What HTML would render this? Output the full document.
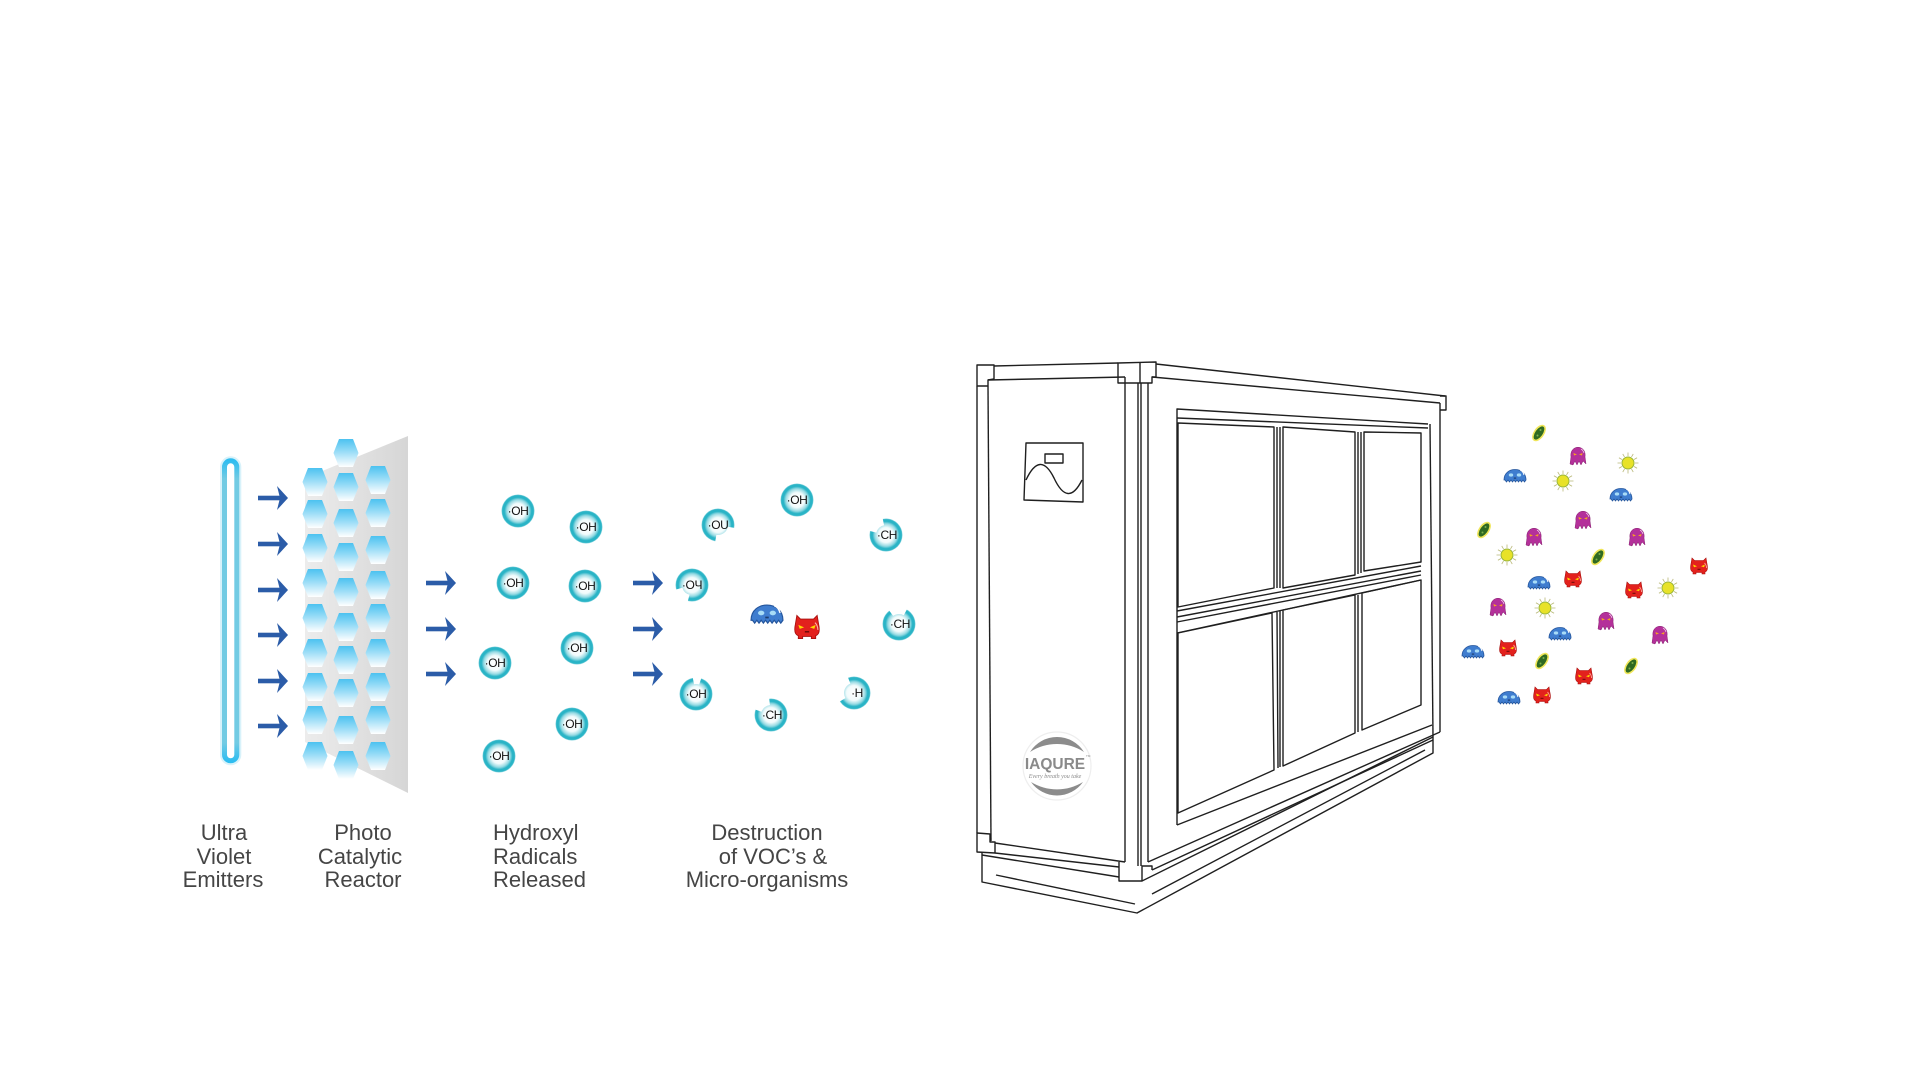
<!DOCTYPE html>
<html>
<head>
<meta charset="utf-8">
<style>
html,body{margin:0;padding:0;background:#fff;}
body{width:1920px;height:1080px;overflow:hidden;}
svg{display:block;}
.lbl{font-family:"Liberation Sans",sans-serif;font-size:22px;fill:#454545;}
.oh{font-family:"Liberation Sans",sans-serif;font-size:12px;fill:#111;text-anchor:middle;letter-spacing:-0.4px;}
.m{fill:none;stroke:#1f1f1f;stroke-width:1.4;stroke-linejoin:round;}
</style>
</head>
<body>
<svg width="1920" height="1080" viewBox="0 0 1920 1080" xmlns="http://www.w3.org/2000/svg">
<defs>
  <linearGradient id="hg" x1="0" y1="0" x2="0" y2="1">
    <stop offset="0" stop-color="#4cc2f0"/>
    <stop offset="0.4" stop-color="#8fd9f6"/>
    <stop offset="1" stop-color="#ffffff"/>
  </linearGradient>
  <linearGradient id="pg" x1="0" y1="0" x2="1" y2="0">
    <stop offset="0" stop-color="#ececec"/>
    <stop offset="0.35" stop-color="#e4e4e4"/>
    <stop offset="1" stop-color="#d6d6d6"/>
  </linearGradient>
  <linearGradient id="tg" x1="0" y1="0" x2="0" y2="1">
    <stop offset="0" stop-color="#2fbdf0"/>
    <stop offset="0.06" stop-color="#72cbe3"/>
    <stop offset="0.94" stop-color="#72cbe3"/>
    <stop offset="1" stop-color="#2fbdf0"/>
  </linearGradient>
  <radialGradient id="og" cx="0.5" cy="0.5" r="0.5">
    <stop offset="0" stop-color="#ffffff"/>
    <stop offset="0.45" stop-color="#f2fbfc"/>
    <stop offset="0.68" stop-color="#96dae3"/>
    <stop offset="0.82" stop-color="#2ab4c6"/>
    <stop offset="0.94" stop-color="#2ab4c6"/>
    <stop offset="1" stop-color="#9adbe4"/>
  </radialGradient>
  <polygon id="hx" points="-12.5,0 -7,-14 7,-14 12.5,0 7,14 -7,14" fill="url(#hg)"/>
  <g id="arr">
    <rect x="-30" y="-2.3" width="25" height="4.6" fill="#2b5ca8"/>
    <polygon points="-11,-12 0,0 -11,12 -8,0" fill="#2b5ca8"/>
  </g>
  <circle id="ohc" r="16.5" fill="url(#og)"/>
  <g id="jelly">
    <path d="M-11,5 C-11,-9 11,-9 11,5 L9.5,7 L8,5 L6.5,7 L5,5 L3.5,7 L2,5 L0.5,7 L-1,5 L-2.5,7 L-4,5 L-5.5,7 L-7,5 L-8.5,7 L-10,5 Z" fill="#3f7dcf" stroke="#24559c" stroke-width="0.8"/>
    <ellipse cx="-4" cy="0" rx="2.2" ry="1.6" fill="#a8dcf7"/>
    <ellipse cx="4" cy="0" rx="2.2" ry="1.6" fill="#a8dcf7"/>
    <rect x="-1.2" y="2.5" width="2.4" height="1.2" fill="#1d3d70"/>
    <path d="M5,-5 q3,1 4,5" stroke="#ffffff" fill="none" stroke-width="1"/>
  </g>
  <g id="devil">
    <path d="M-8,-2 L-7,-8 L-4.5,-5.5 L4.5,-5.5 L7,-8 L8,-2 Q9.5,5 6,6 L6,8 L3,8 L3,6.5 L-3,6.5 L-3,8 L-6,8 L-6,6 Q-9.5,5 -8,-2 Z" fill="#e3211d" stroke="#a8100e" stroke-width="0.6"/>
    <path d="M-6,-1.5 L-2,0.3 L-5,1.3 Z" fill="#ffd800"/>
    <path d="M6,-1.5 L2,0.3 L5,1.3 Z" fill="#ffd800"/>
    <rect x="-1.5" y="2.8" width="3" height="1" fill="#6b0a08"/>
    <path d="M5.5,-3 q2,2 2,5" stroke="#ffb0a8" fill="none" stroke-width="0.8"/>
  </g>
  <g id="squid">
    <path d="M-7,1 C-9,-12 9,-12 7,1 L8,8 L5,5 L3,9 L1,5 L-1,9 L-3,5 L-5,9 L-8,8 Z" fill="#b4309a" stroke="#86206f" stroke-width="0.5"/>
    <path d="M-4.5,-3 L-1,-1.5 L-4,-0.5 Z" fill="#f6a51f"/>
    <path d="M4.5,-3 L1,-1.5 L4,-0.5 Z" fill="#f6a51f"/>
    <path d="M3,-7 q2,1 3,4" stroke="#f3c6ea" fill="none" stroke-width="0.8"/>
  </g>
  <g id="sun">
    <path d="M7,0L10.5,0M6.06,3.5L9.09,5.25M3.5,6.06L5.25,9.09M0,7L0,10.5M-3.5,6.06L-5.25,9.09M-6.06,3.5L-9.09,5.25M-7,0L-10.5,0M-6.06,-3.5L-9.09,-5.25M-3.5,-6.06L-5.25,-9.09M0,-7L0,-10.5M3.5,-6.06L5.25,-9.09M6.06,-3.5L9.09,-5.25" stroke="#b9b878" stroke-width="0.8" fill="none"/>
    <circle r="6" fill="#e8e228" stroke="#98b43a" stroke-width="1"/>
  </g>
  <g id="rod">
    <ellipse rx="4.5" ry="8.5" transform="rotate(35)" fill="#2f6a22" stroke="#f0e65a" stroke-width="1.6"/>
    <circle cx="1.5" cy="-3" r="1" fill="#7fb04a"/>
    <circle cx="-1.5" cy="2.5" r="1" fill="#7fb04a"/>
  </g>
</defs>

<!-- UV tube -->
<rect x="224.5" y="460.8" width="12.3" height="300" rx="6.2" fill="none" stroke="#d8f2fa" stroke-width="9"/>
<rect x="224.5" y="460.8" width="12.3" height="300" rx="6.2" fill="#ffffff" stroke="url(#tg)" stroke-width="5"/>

<!-- arrows set 1 -->
<use href="#arr" transform="translate(288,498)"/>
<use href="#arr" transform="translate(288,544)"/>
<use href="#arr" transform="translate(288,590)"/>
<use href="#arr" transform="translate(288,635)"/>
<use href="#arr" transform="translate(288,681)"/>
<use href="#arr" transform="translate(288,726)"/>

<!-- reactor panel -->
<polygon points="305,478 408,436 408,793 305,742" fill="url(#pg)"/>
<use href="#hx" transform="translate(315,482)"/>
<use href="#hx" transform="translate(315,514)"/>
<use href="#hx" transform="translate(315,548)"/>
<use href="#hx" transform="translate(315,583)"/>
<use href="#hx" transform="translate(315,618)"/>
<use href="#hx" transform="translate(315,653)"/>
<use href="#hx" transform="translate(315,687)"/>
<use href="#hx" transform="translate(315,720)"/>
<use href="#hx" transform="translate(315,756)"/>
<use href="#hx" transform="translate(346,453)"/>
<use href="#hx" transform="translate(346,487)"/>
<use href="#hx" transform="translate(346,523)"/>
<use href="#hx" transform="translate(346,557)"/>
<use href="#hx" transform="translate(346,592)"/>
<use href="#hx" transform="translate(346,627)"/>
<use href="#hx" transform="translate(346,660)"/>
<use href="#hx" transform="translate(346,693)"/>
<use href="#hx" transform="translate(346,730)"/>
<use href="#hx" transform="translate(346,765)"/>
<use href="#hx" transform="translate(378,480)"/>
<use href="#hx" transform="translate(378,513)"/>
<use href="#hx" transform="translate(378,550)"/>
<use href="#hx" transform="translate(378,585)"/>
<use href="#hx" transform="translate(378,618)"/>
<use href="#hx" transform="translate(378,653)"/>
<use href="#hx" transform="translate(378,687)"/>
<use href="#hx" transform="translate(378,720)"/>
<use href="#hx" transform="translate(378,756)"/>

<!-- arrows set 2 -->
<use href="#arr" transform="translate(456,583)"/>
<use href="#arr" transform="translate(456,629)"/>
<use href="#arr" transform="translate(456,674)"/>

<!-- OH radicals released -->
<g>
  <use href="#ohc" x="518" y="511"/><text class="oh" x="518" y="515">·OH</text>
  <use href="#ohc" x="586" y="527"/><text class="oh" x="586" y="531">·OH</text>
  <use href="#ohc" x="513" y="583"/><text class="oh" x="513" y="587">·OH</text>
  <use href="#ohc" x="585" y="586"/><text class="oh" x="585" y="590">·OH</text>
  <use href="#ohc" x="495" y="663"/><text class="oh" x="495" y="667">·OH</text>
  <use href="#ohc" x="577" y="648"/><text class="oh" x="577" y="652">·OH</text>
  <use href="#ohc" x="572" y="724"/><text class="oh" x="572" y="728">·OH</text>
  <use href="#ohc" x="499" y="756"/><text class="oh" x="499" y="760">·OH</text>
</g>

<!-- arrows set 3 -->
<use href="#arr" transform="translate(663,583)"/>
<use href="#arr" transform="translate(663,629)"/>
<use href="#arr" transform="translate(663,674)"/>

<!-- destruction: broken OH -->
<g>
  <use href="#ohc" x="718" y="525"/>
  <circle cx="718" cy="525" r="14" fill="none" stroke="#fff" stroke-width="8" pathLength="360" stroke-dasharray="0 10 90 360"/>
  <text class="oh" x="718" y="529">·OU</text>

  <use href="#ohc" x="797" y="500"/><text class="oh" x="797" y="504">·OH</text>

  <use href="#ohc" x="886" y="535"/>
  <circle cx="886" cy="535" r="14" fill="none" stroke="#fff" stroke-width="8" pathLength="360" stroke-dasharray="0 195 65 360"/>
  <text class="oh" x="887" y="539">·CH</text>

  <use href="#ohc" x="692" y="585"/>
  <circle cx="692" cy="585" r="14" fill="none" stroke="#fff" stroke-width="8" pathLength="360" stroke-dasharray="0 105 60 360"/>
  <text class="oh" x="692" y="589">·OЧ</text>

  <use href="#ohc" x="899" y="624"/>
  <circle cx="899" cy="624" r="14" fill="none" stroke="#fff" stroke-width="8" pathLength="360" stroke-dasharray="0 235 65 360"/>
  <text class="oh" x="900" y="628">·CH</text>

  <use href="#ohc" x="696" y="694"/>
  <circle cx="696" cy="694" r="14" fill="none" stroke="#fff" stroke-width="8" pathLength="360" stroke-dasharray="0 260 30 360"/>
  <text class="oh" x="696" y="698">·OH</text>

  <use href="#ohc" x="771" y="715"/>
  <circle cx="771" cy="715" r="14" fill="none" stroke="#fff" stroke-width="8" pathLength="360" stroke-dasharray="0 200 65 360"/>
  <text class="oh" x="772" y="719">·CH</text>

  <use href="#ohc" x="854" y="693"/>
  <circle cx="854" cy="693" r="14" fill="none" stroke="#fff" stroke-width="8" pathLength="360" stroke-dasharray="0 150 100 360"/>
  <text class="oh" x="857" y="697">·H</text>
</g>
<use href="#jelly" transform="translate(767,613) scale(1.45)"/>
<use href="#devil" transform="translate(807,627) scale(1.45)"/>

<!-- labels -->
<text class="lbl" x="224" y="840" text-anchor="middle">Ultra</text>
<text class="lbl" x="224" y="864" text-anchor="middle">Violet</text>
<text class="lbl" x="223" y="887" text-anchor="middle">Emitters</text>
<text class="lbl" x="363" y="840" text-anchor="middle">Photo</text>
<text class="lbl" x="360" y="864" text-anchor="middle">Catalytic</text>
<text class="lbl" x="363" y="887" text-anchor="middle">Reactor</text>
<text class="lbl" x="493" y="840">Hydroxyl</text>
<text class="lbl" x="493" y="864">Radicals</text>
<text class="lbl" x="493" y="887">Released</text>
<text class="lbl" x="767" y="840" text-anchor="middle">Destruction</text>
<text class="lbl" x="773" y="864" text-anchor="middle">of VOC’s &amp;</text>
<text class="lbl" x="767" y="887" text-anchor="middle">Micro-organisms</text>

<!-- Machine -->
<g class="m">
  <path d="M977,365 L994,365 L994,379 L988,380 L988,386 L977,386 Z"/>
  <path d="M994,366 L1118,363"/>
  <path d="M988,380 L1125,377"/>
  <path d="M1118,363 L1156,362 L1156,377 L1152,377 L1152,383 L1118,383 Z"/>
  <path d="M1140,362 L1140,383"/>
  <path d="M977,386 L977,833"/>
  <path d="M988,386 L991,841"/>
  <path d="M1125,377 L1125,862"/>
  <path d="M1138,383 L1138,866"/>
  <path d="M1141,383 L1141,866"/>
  <path d="M1148,383 L1148,862"/>
  <path d="M977,833 L990,834 L990,842 L995,842 L995,853 L977,852 Z"/>
  <path d="M995,843 L1125,862"/>
  <path d="M995,853 L1119,867"/>
  <path d="M1119,862 L1119,881 L1142,881 L1142,866 L1152,866 L1152,870"/>
  <path d="M982,853 L982,882 L1137,913 L1433,753 L1433,737"/>
  <path d="M982,855 L1119,877"/>
  <path d="M1142,881 L1433,737"/>
  <path d="M996,875 L1135,904"/>
  <path d="M1152,894 L1425,750"/>
  <path d="M1156,364 L1445,396"/>
  <path d="M1152,377 L1440,403"/>
  <path d="M1440,396 L1446,396 L1446,410 L1440,410"/>
  <path d="M1440,403 L1440,732"/>
  <path d="M1430,424 L1433,737"/>
  <path d="M1148,862 L1440,732"/>
  <path d="M1152,870 L1433,740"/>
  <path d="M1177,825 L1177,409 L1428,424"/>
  <path d="M1177,825 L1432,725"/>
  <path d="M1177,418 L1428,428"/>
  <path d="M1178,423 L1274,427 L1274,588 L1178,607 Z"/>
  <path d="M1283,427 L1355,432 L1355,575 L1283,588 Z"/>
  <path d="M1364,432 L1421,433 L1421,562 L1364,571 Z"/>
  <path d="M1277,427 L1277,588 M1280,427 L1280,588"/>
  <path d="M1358,432 L1358,574 M1361,432 L1361,573"/>
  <path d="M1177,611 L1421,566"/>
  <path d="M1177,617 L1421,571"/>
  <path d="M1177,622 L1421,575"/>
  <path d="M1177,633 L1421,580"/>
  <path d="M1178,633 L1272,613 L1274,770 L1178,813 Z"/>
  <path d="M1283,610 L1355,595 L1355,733 L1283,766 Z"/>
  <path d="M1362,593 L1421,580 L1421,705 L1362,730 Z"/>
  <path d="M1277,612 L1278,768 M1280,611 L1280,767"/>
  <path d="M1358,595 L1358,732"/>
  <path d="M1026,443 L1083,443 L1083,502 L1024,500 Z"/>
  <rect x="1045" y="454" width="18" height="9"/>
  <path d="M1026,480 Q1040,450 1054,478 Q1068,508 1082,480"/>
</g>

<!-- logo -->
<g>
  <circle cx="1057" cy="766" r="34" fill="#fff" stroke="#eeeeee" stroke-width="1.2"/>
  <path d="M1030,752 A31.8,31.8 0 0 1 1084,752 A49.6,49.6 0 0 0 1030,752 Z" fill="#8c8c8c"/>
  <text x="1055" y="769" text-anchor="middle" font-family="Liberation Sans,sans-serif" font-weight="bold" font-size="15.5" fill="#8a8a8a">IAQURE</text>
  <text x="1086" y="757" font-family="Liberation Sans,sans-serif" font-size="3" fill="#8a8a8a">TM</text>
  <text x="1055" y="778" text-anchor="middle" font-family="Liberation Serif,serif" font-style="italic" font-size="6" fill="#8a8a8a">Every breath you take</text>
  <path d="M1031,782 A31.8,31.8 0 0 0 1083,782 A49.6,49.6 0 0 1 1031,782 Z" fill="#8c8c8c"/>
</g>

<!-- microbe cloud -->
<use href="#rod" transform="translate(1539,433)"/>
<use href="#rod" transform="translate(1484,530)"/>
<use href="#rod" transform="translate(1598,557)"/>
<use href="#rod" transform="translate(1542,661)"/>
<use href="#rod" transform="translate(1631,666)"/>

<use href="#squid" transform="translate(1578,456)"/>
<use href="#squid" transform="translate(1583,520)"/>
<use href="#squid" transform="translate(1534,537)"/>
<use href="#squid" transform="translate(1637,537)"/>
<use href="#squid" transform="translate(1498,607)"/>
<use href="#squid" transform="translate(1606,621)"/>
<use href="#squid" transform="translate(1660,635)"/>

<use href="#sun" transform="translate(1563,481)"/>
<use href="#sun" transform="translate(1628,463)"/>
<use href="#sun" transform="translate(1507,555)"/>
<use href="#sun" transform="translate(1668,588)"/>
<use href="#sun" transform="translate(1545,608)"/>

<use href="#jelly" transform="translate(1515,475)"/>
<use href="#jelly" transform="translate(1621,494)"/>
<use href="#jelly" transform="translate(1539,582)"/>
<use href="#jelly" transform="translate(1560,633)"/>
<use href="#jelly" transform="translate(1473,651)"/>
<use href="#jelly" transform="translate(1509,697)"/>

<use href="#devil" transform="translate(1699,566)"/>
<use href="#devil" transform="translate(1573,579)"/>
<use href="#devil" transform="translate(1634,590)"/>
<use href="#devil" transform="translate(1508,648)"/>
<use href="#devil" transform="translate(1584,676)"/>
<use href="#devil" transform="translate(1542,695)"/>
</svg>
</body>
</html>
